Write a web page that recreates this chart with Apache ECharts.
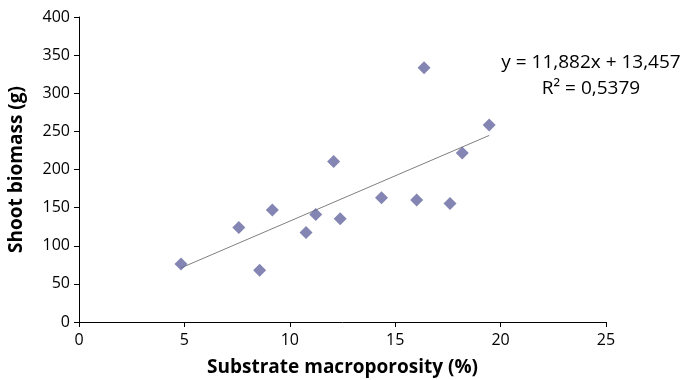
<!DOCTYPE html>
<html>
<head>
<meta charset="utf-8">
<script src="https://cdn.jsdelivr.net/npm/echarts@6/dist/echarts.min.js"></script>
<style>
  html, body { margin: 0; padding: 0; background: #fff; }
  #chart { width: 688px; height: 380px; }
</style>
</head>
<body>
<div id="chart"></div>
<script>
// macroporosity (%) and shoot biomass (g)
const macroporosity = [4.84, 7.58, 8.57, 9.17, 10.77, 11.23, 12.39, 12.08, 14.35, 16.02, 17.6, 16.37, 19.46, 18.18];
const biomass = [76, 124, 68, 147, 117.5, 141, 135.5, 210.5, 163, 160, 155.5, 333.5, 258.5, 221.5];

// linear trend from the equation shown on the chart
const slope = 11.882;
const intercept = 13.457;
const equationLines = ['y = 11,882x + 13,457', 'R² = 0,5379'];

const xTicks = [0, 5, 10, 15, 20, 25];
const yTicks = [0, 50, 100, 150, 200, 250, 300, 350, 400];

const points = macroporosity.map((x, i) => [x, biomass[i]]);
const xMin = Math.min(...macroporosity);
const xMax = Math.max(...macroporosity);
const trend = [[xMin, slope * xMin + intercept], [xMax, slope * xMax + intercept]];

const chart = echarts.init(document.getElementById('chart'));
const font = '"Open Sans", "Noto Sans", sans-serif';

chart.setOption({
  animation: false,
  grid: { left: 79, right: 82, top: 17, bottom: 58, outerBoundsMode: 'none', containLabel: false },
  xAxis: {
    type: 'value',
    min: xTicks[0],
    max: xTicks[xTicks.length - 1],
    interval: 5,
    name: 'Substrate macroporosity (%)',
    nameLocation: 'middle',
    nameGap: 36,
    nameTextStyle: { fontFamily: font, fontWeight: 'bold', fontSize: 19, color: '#000' },
    axisLine: { lineStyle: { color: '#000', width: 1 } },
    axisTick: { show: true, length: 5, lineStyle: { color: '#000' } },
    axisLabel: { fontFamily: font, fontSize: 16, color: '#000', margin: 10 },
    splitLine: { show: false }
  },
  yAxis: {
    type: 'value',
    min: yTicks[0],
    max: yTicks[yTicks.length - 1],
    interval: 50,
    name: 'Shoot biomass (g)',
    nameLocation: 'middle',
    nameGap: 53,
    nameTextStyle: { fontFamily: font, fontWeight: 'bold', fontSize: 19, color: '#000' },
    axisLine: { show: true, lineStyle: { color: '#000', width: 1 } },
    axisTick: { show: true, length: 5, lineStyle: { color: '#000' } },
    axisLabel: { fontFamily: font, fontSize: 16, color: '#000', margin: 9 },
    splitLine: { show: false }
  },
  series: [
    {
      type: 'line',
      data: trend,
      symbol: 'none',
      lineStyle: { color: '#7f7f7f', width: 1 },
      silent: true,
      z: 1
    },
    {
      type: 'scatter',
      data: points,
      symbol: 'diamond',
      symbolSize: [13, 13],
      itemStyle: { color: '#65669f' },
      z: 2
    }
  ],
  graphic: [
    {
      type: 'text',
      x: 591,
      y: 50,
      style: {
        text: equationLines.join('\n'),
        font: '19px ' + font,
        fill: '#000',
        align: 'center',
        verticalAlign: 'top',
        lineHeight: 26
      }
    }
  ]
});
</script>
</body>
</html>
